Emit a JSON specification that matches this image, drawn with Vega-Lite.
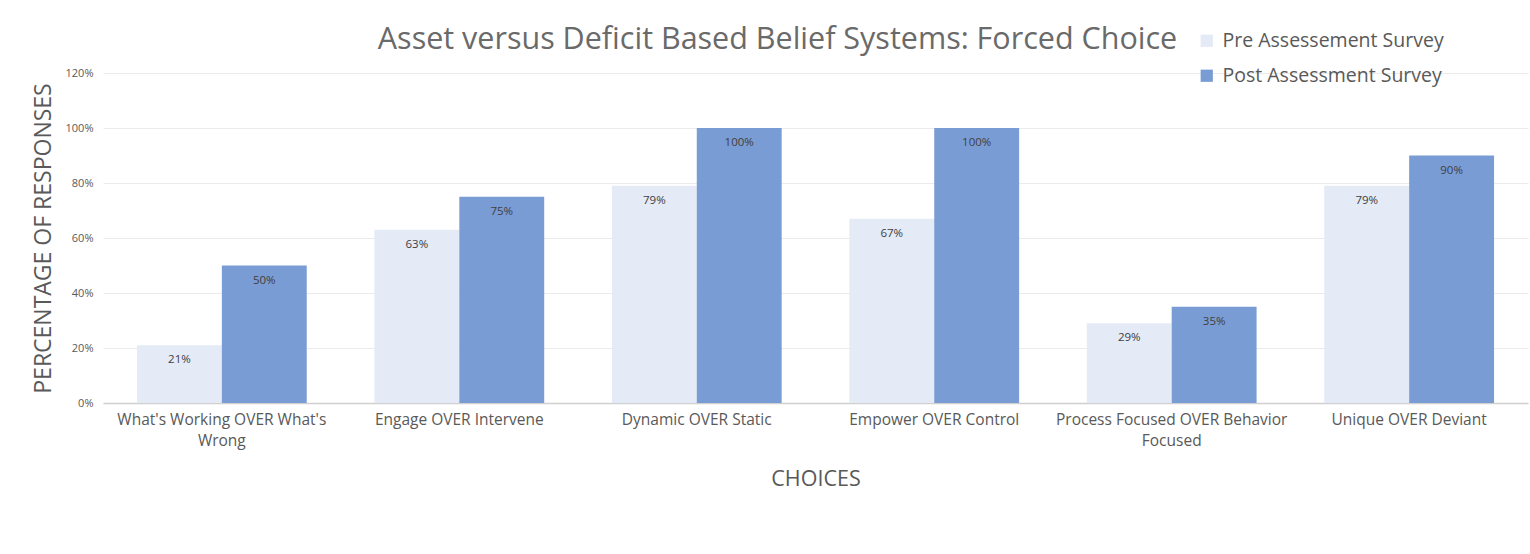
{
  "$schema": "https://vega.github.io/schema/vega-lite/v6.json",
  "width": 1425,
  "height": 330,
  "autosize": {"type": "none"},
  "padding": {"left": 103, "top": 73, "right": 2, "bottom": 151},
  "background": "white",
  "config": {
    "view": {"stroke": null},
    "font": "Open Sans"
  },
  "title": {
    "text": "Asset versus Deficit Based Belief Systems: Forced Choice",
    "fontSize": 30.5,
    "font": "Open Sans",
    "fontWeight": 400,
    "color": "#6A6A6A",
    "anchor": "middle",
    "frame": "group",
    "dx": -38,
    "dy": 44,
    "offset": 20
  },
  "data": {
    "values": [
      {"choice": "What's Working OVER What's Wrong", "survey": "Pre Assessement Survey", "value": 0.21},
      {"choice": "What's Working OVER What's Wrong", "survey": "Post Assessment Survey", "value": 0.50},
      {"choice": "Engage OVER Intervene", "survey": "Pre Assessement Survey", "value": 0.63},
      {"choice": "Engage OVER Intervene", "survey": "Post Assessment Survey", "value": 0.75},
      {"choice": "Dynamic OVER Static", "survey": "Pre Assessement Survey", "value": 0.79},
      {"choice": "Dynamic OVER Static", "survey": "Post Assessment Survey", "value": 1.00},
      {"choice": "Empower OVER Control", "survey": "Pre Assessement Survey", "value": 0.67},
      {"choice": "Empower OVER Control", "survey": "Post Assessment Survey", "value": 1.00},
      {"choice": "Process Focused OVER Behavior Focused", "survey": "Pre Assessement Survey", "value": 0.29},
      {"choice": "Process Focused OVER Behavior Focused", "survey": "Post Assessment Survey", "value": 0.35},
      {"choice": "Unique OVER Deviant", "survey": "Pre Assessement Survey", "value": 0.79},
      {"choice": "Unique OVER Deviant", "survey": "Post Assessment Survey", "value": 0.90}
    ]
  },
  "encoding": {
    "x": {
      "field": "choice",
      "type": "nominal",
      "sort": null,
      "scale": {"paddingInner": 0.285, "paddingOuter": 0.143},
      "axis": {
        "title": "CHOICES",
        "titleFontSize": 21.5,
        "titleFontWeight": "normal",
        "titleColor": "#595959",
        "titlePadding": 20,
        "labelAngle": 0,
        "labelFontSize": 15.5,
        "labelColor": "#595959",
        "labelPadding": 9,
        "labelLimit": 400,
        "labelLineHeight": 21,
        "ticks": false,
        "domainColor": "#D0D0D0",
        "domainWidth": 1.5,
        "labelExpr": "datum.value == \"What's Working OVER What's Wrong\" ? [\"What's Working OVER What's\", 'Wrong'] : datum.value == 'Process Focused OVER Behavior Focused' ? ['Process Focused OVER Behavior', 'Focused'] : datum.value"
      }
    },
    "xOffset": {"field": "survey", "type": "nominal", "sort": ["Pre Assessement Survey", "Post Assessment Survey"]},
    "y": {
      "field": "value",
      "type": "quantitative",
      "scale": {"domain": [0, 1.2], "nice": false},
      "axis": {
        "title": "PERCENTAGE OF RESPONSES",
        "titleFontSize": 23,
        "titleFontWeight": "normal",
        "titleColor": "#595959",
        "titlePadding": 10,
        "format": ".0%",
        "values": [0, 0.2, 0.4, 0.6, 0.8, 1.0, 1.2],
        "labelFontSize": 11,
        "labelColor": "#595959",
        "labelPadding": 10,
        "ticks": false,
        "domain": false,
        "gridColor": "#EBEBEB",
        "gridWidth": 1
      }
    }
  },
  "layer": [
    {
      "mark": {"type": "bar"},
      "encoding": {
        "color": {
          "field": "survey",
          "type": "nominal",
          "sort": ["Pre Assessement Survey", "Post Assessment Survey"],
          "scale": {"range": ["#E4EAF6", "#7A9CD4"]},
          "legend": {
            "title": null,
            "orient": "none",
            "legendX": 1094,
            "legendY": -42,
            "symbolType": "square",
            "symbolSize": 150,
            "symbolStrokeWidth": 0,
            "labelFontSize": 19.5,
            "labelColor": "#595959",
            "labelLimit": 400,
            "rowPadding": 14,
            "labelOffset": 6
          }
        }
      }
    },
    {
      "mark": {"type": "text", "baseline": "middle", "dy": 15, "fontSize": 11.5, "color": "#404040"},
      "encoding": {
        "text": {"field": "value", "type": "quantitative", "format": ".0%"}
      }
    }
  ]
}
